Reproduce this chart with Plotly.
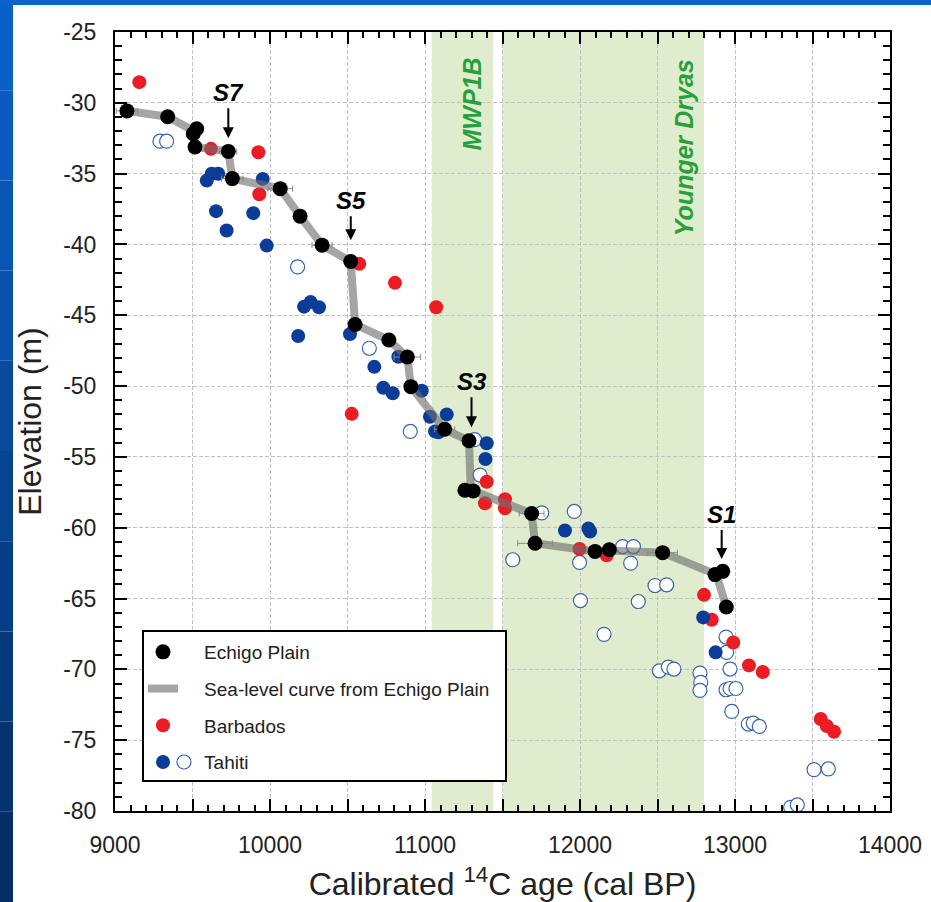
import plotly.graph_objects as go

# ---------------- data ----------------
echigo_age = [9077, 9340, 9505, 9527, 9516, 9731, 9757, 10066, 10194, 10336, 10521, 10549,
              10767, 10886, 10909, 11127, 11284, 11257, 11311, 11688, 11710, 12097, 12189,
              12533, 12871, 12921, 12944]
echigo_elev = [-30.57, -30.98, -32.18, -31.83, -33.12, -33.43, -35.35, -36.06, -38.0, -40.05,
               -41.2, -45.65, -46.75, -47.95, -50.04, -53.05, -53.86, -57.35, -57.4, -59.0,
               -61.1, -61.67, -61.55, -61.76, -63.31, -63.08, -65.6]
echigo_err = [69, 0, 0, 0, 0, 54, 69, 80, 0, 65, 0, 0, 0, 86, 0, 65, 0, 0, 0, 80, 112, 0, 0,
              95, 0, 0, 0]

curve_age = [9040, 9077, 9340, 9510, 9516, 9731, 9757, 10066, 10194, 10336, 10521, 10549,
             10767, 10886, 10909, 11127, 11284, 11295, 11311, 11688, 11710, 12097, 12189,
             12533, 12880, 12944]
curve_elev = [-30.45, -30.57, -30.98, -32.0, -33.12, -33.43, -35.35, -36.06, -38.0, -40.05,
              -41.2, -45.65, -46.75, -47.95, -50.04, -53.05, -53.86, -57.35, -57.4, -59.0,
              -61.1, -61.67, -61.6, -61.76, -63.3, -65.6]

barbados_age = [9157, 9619, 9925, 9931, 10576, 10806, 11072, 10527, 11398, 11387, 11516,
                11516, 11997, 12172, 12800, 12850, 12989, 13090, 13179, 13553, 13592, 13639]
barbados_elev = [-28.54, -33.25, -33.49, -36.46, -41.37, -42.71, -44.43, -51.96, -56.75,
                 -58.27, -57.99, -58.62, -61.5, -61.95, -64.74, -66.5, -68.1, -69.72, -70.19,
                 -73.5, -74.0, -74.4]

tahiti_age = [9592, 9624, 9666, 9953, 9652, 9892, 9720, 9979, 10182, 10220, 10262, 10316,
              10516, 10673, 10731, 10792, 10828, 10979, 11032, 11140, 11065, 11086, 11398,
              11390, 11903, 12054, 12065, 12795, 12875]
tahiti_elev = [-35.49, -35.01, -35.01, -35.37, -37.65, -37.79, -39.02, -40.08, -46.46, -44.39,
               -44.07, -44.43, -46.33, -48.64, -50.12, -50.51, -47.93, -50.33, -52.16, -52.0,
               -53.2, -53.26, -54.04, -55.15, -60.2, -60.05, -60.27, -66.33, -68.8]

tahiti_open_age = [9290, 9333, 10178, 10641, 10905, 11320, 11355, 11753, 11963, 11566, 11997,
                   12275, 12345, 12327, 12484, 12559, 12376, 12003, 12155, 12512, 12570, 12606,
                   12774, 12779, 12774, 12942, 12946, 12968, 12942, 12968, 13006, 12979, 13086,
                   13118, 13157, 13510, 13602, 13359, 13402]
tahiti_open_elev = [-32.71, -32.71, -41.59, -47.33, -53.2, -53.78, -56.28, -58.95, -58.85,
                    -62.26, -62.45, -61.33, -61.33, -62.5, -64.08, -64.03, -65.21, -65.14,
                    -67.53, -70.1, -69.84, -69.98, -70.26, -70.92, -71.49, -67.72, -68.8, -69.98,
                    -71.44, -71.35, -71.35, -72.97, -73.86, -73.79, -74.03, -77.08, -77.03,
                    -79.74, -79.57]

steps = ["S7", "S5", "S3", "S1"]
step_age = [9731, 10521, 11300, 12914]
step_tip_elev = [-32.5, -39.7, -52.9, -62.2]
step_arrow_len = [30, 24, 30, 29]

band_names = ["MWP1B", "Younger Dryas"]
band_start = [11043, 11500]
band_end = [11440, 12800]
band_label_age = [11303, 12671]
band_label_elev = [-30.05, -33.2]

x_tick_vals = list(range(9000, 14001, 500))
x_tick_text = [str(v) if v % 1000 == 0 else "" for v in x_tick_vals]
y_tick_vals = list(range(-80, -24, 5))
y_tick_text = [str(v) for v in y_tick_vals]

# ---------------- style ----------------
FONT = "Arial, 'Liberation Sans', sans-serif"
W, H = 931, 902
ML, MR, MT, MB = 115, 41, 32, 91
PW, PH = W - ML - MR, H - MT - MB
NB = "\u00a0"


def px2paper_x(px):
    return (px - ML) / PW


def px2paper_y(py):
    return (H - MB - py) / PH


fig = go.Figure()

fig.add_trace(go.Scatter(
    x=tahiti_open_age, y=tahiti_open_elev, mode="markers", showlegend=False,
    marker=dict(size=14, color="white", line=dict(color="#3a64ad", width=1.2))))
fig.add_trace(go.Scatter(
    x=barbados_age, y=barbados_elev, mode="markers", name=NB * 4 + "Barbados",
    legendgroup="c", legendrank=3,
    marker=dict(size=14, color="#ec1c24")))
fig.add_trace(go.Scatter(
    x=tahiti_age, y=tahiti_elev, mode="markers", name=NB * 4 + "Tahiti",
    legendgroup="d", legendrank=4,
    marker=dict(size=14, color="#0b3d98")))
fig.add_trace(go.Scatter(
    x=curve_age, y=curve_elev, mode="lines",
    name=NB * 4 + "Sea-level curve from Echigo Plain",
    legendgroup="b", legendrank=2,
    line=dict(color="rgba(110,110,110,0.62)", width=8)))
fig.add_trace(go.Scatter(
    x=echigo_age, y=echigo_elev, mode="markers", name=NB * 4 + "Echigo Plain",
    legendgroup="a", legendrank=1,
    error_x=dict(type="data", array=echigo_err, color="#8a8a8a", thickness=1, width=3),
    marker=dict(size=15, color="black")))

shapes = []
# shaded periods
for x0, x1 in zip(band_start, band_end):
    shapes.append(dict(type="rect", xref="x", yref="paper", layer="below",
                       x0=x0, x1=x1, y0=0, y1=1, fillcolor="#dfeccd", line_width=0))

# background slide decoration
blues = ["#0b5fc9", "#0a5ac0", "#0955b6", "#0850aa", "#074a9e", "#064492", "#053e86",
         "#04397b", "#033470", "#032f66"]
n = len(blues)
for i, c in enumerate(blues):
    shapes.append(dict(type="rect", xref="paper", yref="paper", layer="below",
                       x0=px2paper_x(0), x1=px2paper_x(13),
                       y0=px2paper_y(H * (i + 1) / n), y1=px2paper_y(H * i / n),
                       fillcolor=c, line_width=0))
shapes.append(dict(type="rect", xref="paper", yref="paper", layer="below",
                   x0=px2paper_x(0), x1=px2paper_x(W), y0=px2paper_y(5), y1=px2paper_y(0),
                   fillcolor="#0b62ca", line_width=0))
# legend frame (drawn as a shape so the extra open Tahiti symbol can sit on top of it)
shapes.append(dict(type="rect", xref="paper", yref="paper", layer="above",
                   x0=px2paper_x(143), x1=px2paper_x(506),
                   y0=px2paper_y(781), y1=px2paper_y(631),
                   fillcolor="white", line=dict(color="black", width=2)))
cx, cy, r = 184, 762, 7
shapes.append(dict(type="circle", xref="paper", yref="paper", layer="above",
                   x0=px2paper_x(cx - r), x1=px2paper_x(cx + r),
                   y0=px2paper_y(cy + r), y1=px2paper_y(cy - r),
                   fillcolor="white", line=dict(color="#3a64ad", width=1.2)))

annotations = []
for name, xa, ya in zip(band_names, band_label_age, band_label_elev):
    annotations.append(dict(x=xa, y=ya, xref="x", yref="y", text="<b><i>%s</i></b>" % name,
                            textangle=-90, showarrow=False,
                            font=dict(family=FONT, size=25, color="#27a03c")))
for s, xa, ya, ln in zip(steps, step_age, step_tip_elev, step_arrow_len):
    annotations.append(dict(x=xa, y=ya, xref="x", yref="y", text="<b><i>%s</i></b>" % s,
                            showarrow=True, ax=0, ay=-ln, yanchor="bottom",
                            arrowhead=2, arrowsize=1.1, arrowwidth=2, arrowcolor="black",
                            font=dict(family=FONT, size=24, color="black")))

axis_common = dict(showline=True, linecolor="black", linewidth=2, mirror="allticks",
                   ticks="inside", tickcolor="black", tickwidth=2, ticklen=12,
                   showgrid=True, gridcolor="#c2c2c2", gridwidth=1, griddash="4px,2px",
                   zeroline=False, tickfont=dict(family=FONT, size=23, color="#222222"))

fig.update_layout(
    width=W, height=H,
    margin=dict(l=ML, r=MR, t=MT, b=MB, autoexpand=False),
    paper_bgcolor="white", plot_bgcolor="white",
    font=dict(family=FONT, color="#222222"),
    xaxis=dict(range=[9000, 14000], tickmode="array", tickvals=x_tick_vals,
               ticktext=x_tick_text,
               minor=dict(dtick=100, tick0=9000, ticks="inside", ticklen=6,
                          tickwidth=1.5, tickcolor="black", showgrid=False),
               ticklabelstandoff=12,
               title=dict(text="Calibrated <sup>14</sup>C age (cal BP)" + NB * 2, standoff=18,
                          font=dict(family=FONT, size=32, color="#222222")),
               **axis_common),
    yaxis=dict(range=[-80, -25], tickmode="array", tickvals=y_tick_vals,
               ticktext=y_tick_text,
               minor=dict(dtick=1, tick0=-80, ticks="inside", ticklen=7,
                          tickwidth=1.5, tickcolor="black", showgrid=False),
               ticklabelstandoff=12,
               title=dict(text="Elevation (m)" + NB * 3, standoff=12,
                          font=dict(family=FONT, size=32, color="#222222")),
               **axis_common),
    legend=dict(x=px2paper_x(143), y=px2paper_y(633), xanchor="left", yanchor="top",
                bgcolor="rgba(0,0,0,0)", borderwidth=0,
                font=dict(family=FONT, size=19, color="#222222"),
                tracegroupgap=9, itemwidth=30),
    annotations=annotations,
    shapes=shapes,
)

fig.write_html("out.html")
